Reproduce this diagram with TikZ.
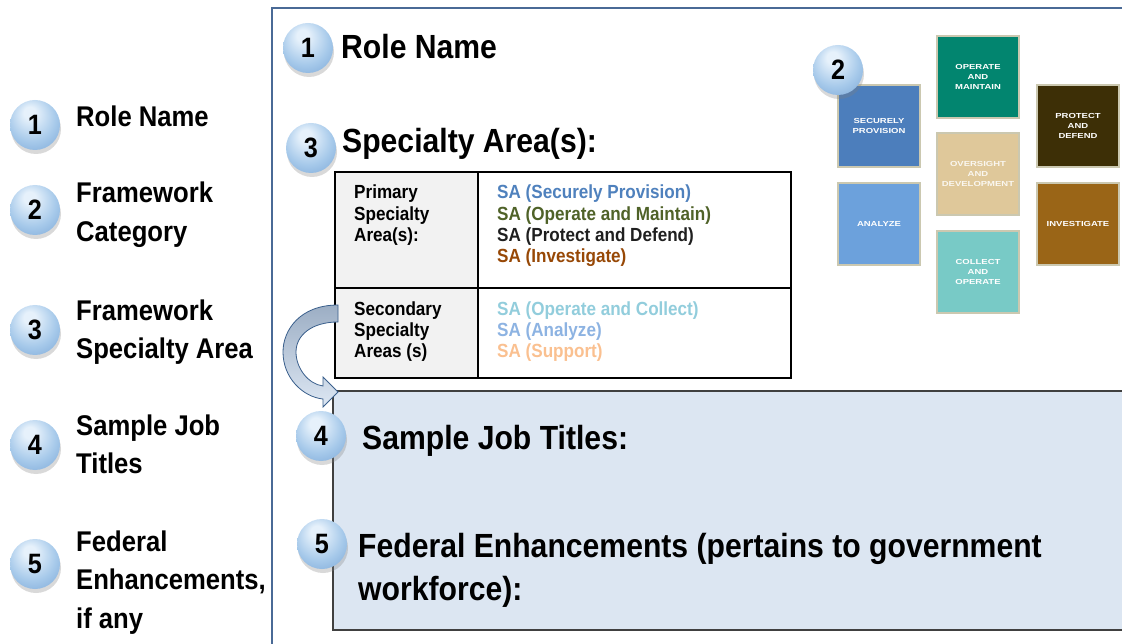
\documentclass[tikz,border=0pt]{standalone}
\usepackage{fontspec}
\setmainfont{Liberation Sans}[FakeStretch=0.9]
\newfontfamily\tilefont{Liberation Sans}[FakeStretch=1.3]
\usetikzlibrary{shadows}

\definecolor{framecol}{HTML}{4A6A96}
\definecolor{cellgray}{HTML}{F2F2F2}
\definecolor{boxfill}{HTML}{DCE6F2}
\definecolor{boxline}{HTML}{404040}
\definecolor{numhi}{HTML}{E6F1FB}
\definecolor{nummid}{HTML}{A6C9EA}
\definecolor{numedge}{HTML}{78A5D6}
\definecolor{arrowtop}{HTML}{9CAEC4}
\definecolor{arrowbot}{HTML}{DDE7F3}
\definecolor{arrowline}{HTML}{3A5F8C}
\definecolor{saSP}{HTML}{4F81BD}
\definecolor{saOM}{HTML}{4F6228}
\definecolor{saPD}{HTML}{1F1F1F}
\definecolor{saIN}{HTML}{974806}
\definecolor{saOC}{HTML}{92CDDC}
\definecolor{saAN}{HTML}{8DB3E2}
\definecolor{saSU}{HTML}{FAC090}
\definecolor{tileedge}{HTML}{CBC8B0}
\definecolor{tileSP}{HTML}{4C7EBC}
\definecolor{tileOM}{HTML}{02856F}
\definecolor{tilePD}{HTML}{3D2F06}
\definecolor{tileOV}{HTML}{DFC89A}
\definecolor{tileAN}{HTML}{6CA1DC}
\definecolor{tileIN}{HTML}{9A6517}
\definecolor{tileCO}{HTML}{78CAC6}

\pgfdeclareradialshading{numshade}{\pgfpoint{-6bp}{14bp}}{%
  color(0bp)=(numhi); color(6bp)=(numhi); color(24bp)=(nummid);
  color(40bp)=(numedge); color(50bp)=(numedge)}

\begin{document}
\begin{tikzpicture}[x=1pt,y=-1pt,
  numball/.style={circle,minimum size=50pt,inner sep=0,shading=numshade,
    drop shadow={opacity=0.3,shadow xshift=1pt,shadow yshift=-4pt},
    font=\bfseries\fontsize{28}{28}\selectfont},
  legend/.style={anchor=base west,inner sep=0,align=left,
    font=\bfseries\fontsize{28.5}{38.5}\selectfont},
  title/.style={anchor=base west,inner sep=0,align=left,
    font=\bfseries\fontsize{33.5}{43}\selectfont},
  celltext/.style={anchor=base west,inner sep=0,align=left,
    font=\bfseries\fontsize{19}{21.3}\selectfont},
  tile/.style={minimum size=82pt,inner sep=0,draw=tileedge,line width=1.5pt,
    text=white,align=center,font=\tilefont\bfseries\fontsize{7.3}{9.6}\selectfont}]

\useasboundingbox (0,0) rectangle (1122,644);

% frame of the template
\draw [framecol,line width=1.2pt] (272,644) -- (272,8) -- (1122,8);

% left legend (base = last line)
\node [legend] (leg1) at (76,127) {Role Name};
\node [legend] (leg2) at (76,241.5) {Framework\\Category};
\node [legend] (leg3) at (76,358.5) {Framework\\Specialty Area};
\node [legend] (leg4) at (76,473.5) {Sample Job\\Titles};
\node [legend] (leg5) at (76,628) {Federal\\Enhancements,\\if any};

\node [numball] (lnum1) at (35,125) {1};
\node [numball] (lnum2) at (35,210) {2};
\node [numball] (lnum3) at (35,330) {3};
\node [numball] (lnum4) at (35,445) {4};
\node [numball] (lnum5) at (35,564) {5};

% specialty area table
\fill [cellgray] (335,172) rectangle (478,378);
\draw [line width=2pt] (335,172) rectangle (791,378);
\draw [line width=2pt] (478,172) -- (478,378);
\draw [line width=2pt] (335,288) -- (791,288);

\node [celltext] (primlab) at (354,241.6) {Primary\\Specialty\\Area(s):};
\node [celltext] (primsa) at (497,262.9) {\textcolor{saSP}{SA (Securely Provision)}\\
  \textcolor{saOM}{SA (Operate and Maintain)}\\
  \textcolor{saPD}{SA (Protect and Defend)}\\
  \textcolor{saIN}{SA (Investigate)}};
\node [celltext] (seclab) at (354,357.6) {Secondary\\Specialty\\Areas (s)};
\node [celltext] (secsa) at (497,357.6) {\textcolor{saOC}{SA (Operate and Collect)}\\
  \textcolor{saAN}{SA (Analyze)}\\
  \textcolor{saSU}{SA (Support)}};

% job titles and enhancements box
\draw [fill=boxfill,draw=boxline,line width=2pt] (333,391) rectangle (1126,630);

% curved arrow
\draw [arrowline,line width=0.8pt,top color=arrowtop,bottom color=arrowbot]
  (338,305) .. controls (300,305) and (283,330) .. (283,352)
  .. controls (283,378) and (303,397) .. (323,399)
  -- (323,407) -- (338,392) -- (323,377) -- (323,386)
  .. controls (308,384) and (296,368) .. (296,352)
  .. controls (296,335) and (312,322) .. (338,322) -- cycle;

% titles
\node [title] (role) at (341,59) {Role Name};
\node [title] (spec) at (342,153) {Specialty Area(s):};
\node [title] (jobs) at (362,449) {Sample Job Titles:};
\node [title] (fed) at (358,600) {Federal Enhancements (pertains to government\\workforce):};

% framework categories
\node [tile,fill=tileSP] (tsp) at (879,126) {SECURELY\\PROVISION};
\node [tile,fill=tileOM] (tom) at (978,77) {OPERATE\\AND\\MAINTAIN};
\node [tile,fill=tilePD] (tpd) at (1078,126) {PROTECT\\AND\\DEFEND};
\node [tile,fill=tileOV,text=white!85!tileOV] (tov) at (978,174) {OVERSIGHT\\AND\\DEVELOPMENT};
\node [tile,fill=tileAN] (tan) at (879,224) {ANALYZE};
\node [tile,fill=tileIN] (tin) at (1078,224) {INVESTIGATE};
\node [tile,fill=tileCO] (tco) at (978,272) {COLLECT\\AND\\OPERATE};

\node [numball] (rnum1) at (308,48) {1};
\node [numball] (rnum2) at (838,70) {2};
\node [numball] (rnum3) at (311,148) {3};
\node [numball] (rnum4) at (321,436) {4};
\node [numball] (rnum5) at (322,544) {5};

\end{tikzpicture}
\end{document}
